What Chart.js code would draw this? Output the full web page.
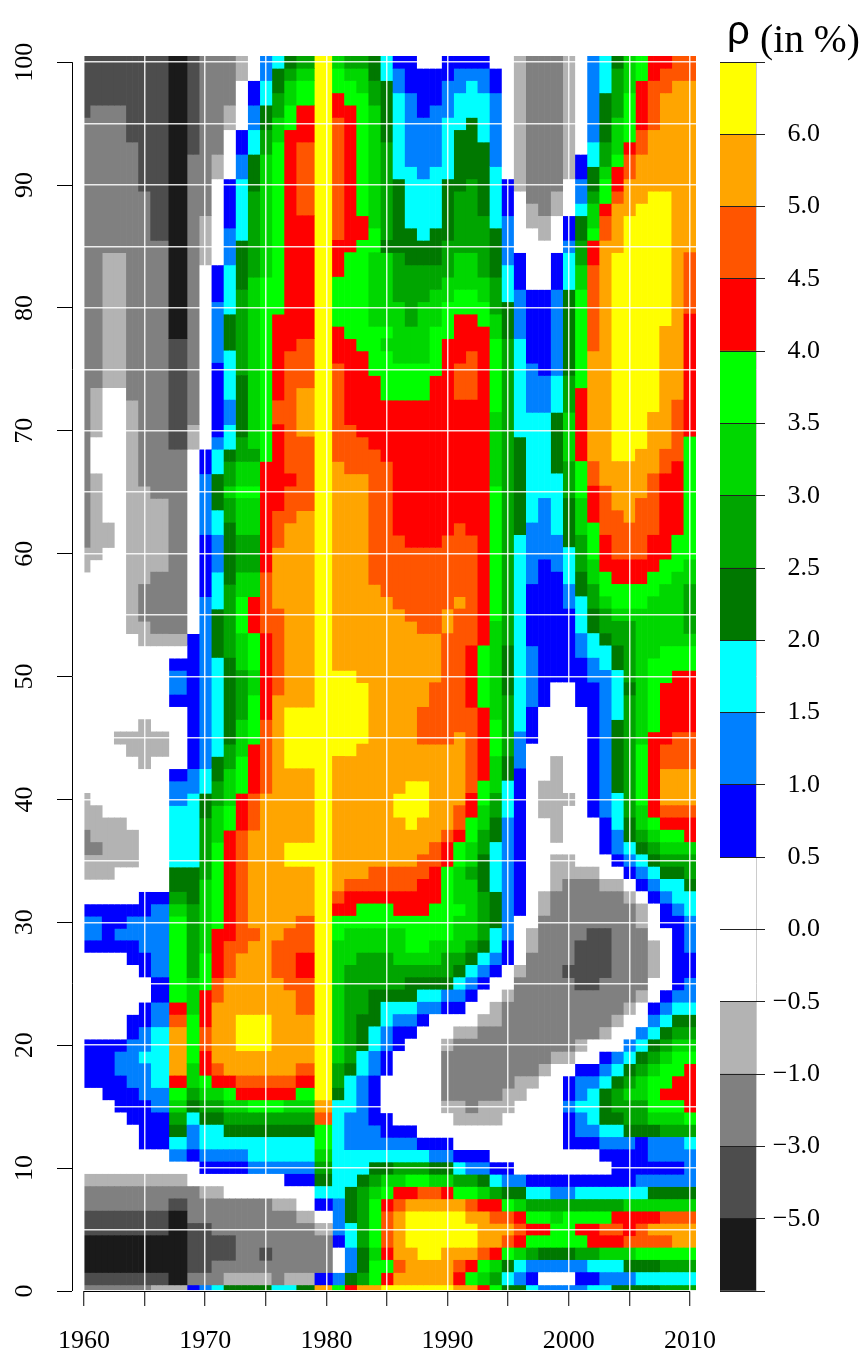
<!DOCTYPE html>
<html><head><meta charset="utf-8">
<style>
html,body{margin:0;padding:0;background:#fff;width:865px;height:1355px;overflow:hidden}
canvas{position:absolute;top:0}
#main{left:0}#bar{left:690px}
.t{position:absolute;color:#000;white-space:pre;line-height:1}
</style>
<script src="https://cdn.jsdelivr.net/npm/chart.js@4/dist/chart.umd.min.js"></script>
</head><body>
<canvas id="main" width="865" height="1355"></canvas>
<canvas id="bar" width="175" height="1355"></canvas>
<div class="t" style="left:727px;top:8px;font:40px 'Liberation Sans'">ρ</div>
<div class="t" style="left:760px;top:16px;font:39.5px 'Liberation Serif'">(in %)</div>
<script>
// Level codes, lowest to highest; e and f are the two white classes around zero
const levelCodes = ["a","b","c","d","e","f","g","h","i","j","k","l","m","n","o","p","q"];
const levelColors = ["#1a1a1a","#4d4d4d","#808080","#b3b3b3","#ffffff","#ffffff","#0000ff","#0080ff","#00ffff","#007800","#00a500","#00d700","#00ff00","#ff0000","#ff5500","#ffa500","#ffff00"];
const legendTicks = ["","\u22125.0","\u22123.0","\u22121.0","\u22120.5","0.0","0.5","1.0","1.5","2.0","2.5","3.0","3.5","4.0","4.5","5.0","6.0",""];
const xAxisYears = [1960,1970,1980,1990,2000,2010];
// Left edge (year) of each drawn column of the picture
const columnStarts = [1960,1960.5,1961.5,1962.5,1963.5,1964.5,1965.5,1967,1968.5,1969.5,1970.5,1971.5,1972.5,1973.5,1974.5,1975.5,1976.5,1977.5,1979,1980.5,1981.5,1982.5,1983.5,1984.5,1985.5,1986.5,1987.5,1988.5,1989.5,1990.5,1991.5,1992.5,1993.5,1994.5,1995.5,1996.5,1997.5,1998.5,1999.5,2000.5,2001.5,2002.5,2003.5,2004.5,2005.5,2006.5,2007.5,2008.5,2009.5,2010.5];
// Each column read from age 100 downward: level code + lowest age of that run
const columnLevels = [
"b96 c61 d59 e41 d38 c36 d34 e32 g31 h29 g28 e21 g17 e10 d9 c7 b5 a2 b1 c0",
"b97 c74 d70 e67 d60 e40 d37 c36 d34 e32 g31 h29 g28 e21 g17 e10 d9 c7 b5 a2 b1 c0",
"b97 c85 d74 e63 d61 e39 d34 e32 g28 e21 g16 e10 d9 c7 b5 a2 b1 c0",
"b97 c85 d74 e46 d45 e39 d35 e32 g30 h29 g28 e21 g20 h18 g15 e10 d9 c7 b5 a2 b1 c0",
"b94 c73 d54 e46 d44 e38 d35 e32 g31 h29 g27 e23 g21 h17 g14 e10 d9 c7 b5 a2 b1 c0",
"b90 c66 d58 c55 d53 e47 d43 e33 g31 h28 g26 e24 g22 h20 i19 h16 g12 e10 d9 c7 b5 a2 b1 c0",
"b86 c65 d59 c54 d53 e46 d44 e33 g32 h26 g24 h22 i17 h15 g12 e10 d9 c7 b5 a2 b1 d0",
"a78 b69 c54 d53 e52 g51 h49 g48 e43 g42 h40 i35 j33 k32 l31 m24 n23 o22 p18 n17 m16 l15 k14 j13 i12 h11 e10 d9 c8 b7 a1 d0",
"b93 c71 d69 e54 g43 h41 i35 j32 k26 l23 m19 l17 k16 j15 i14 h12 g11 e9 c6 b2 c1 g0",
"c88 d84 e69 g67 h62 g57 h43 i41 j39 k34 l28 m25 n22 o20 n18 m17 l16 k15 j14 i12 h11 g10 e9 d8 c6 b2 c1 h0",
"c93 d91 e84 g81 h76 g70 h69 i67 j64 i62 h59 i56 j52 i44 j42 k40 l37 m30 n26 o24 p19 o18 n17 l16 k15 j14 i12 h11 g10 e9 d8 c5 b3 c1 i0",
"c97 d95 e91 g87 h84 i80 j77 i73 h71 i69 j68 k66 l65 k63 j58 k52 j45 k43 l40 m38 n29 o26 p18 n17 m16 l15 k14 j13 i12 h11 g10 e8 c5 b3 c2 d1 j0",
"d99 e95 g93 h91 i86 j82 k75 j70 k68 l66 m65 l62 k59 l57 m54 l51 k47 l44 m41 n38 o28 p23 q20 p18 o17 n16 l15 k14 j13 i12 h11 g10 e8 c2 d1 j0",
"e99 g97 h95 i93 j90 k83 l69 k68 l66 m65 l62 k59 l57 n54 m51 l49 m45 n41 o38 p30 o29 p23 q20 p18 o17 n16 m15 k14 j13 i11 h10 e8 c2 d1 j0",
"h99 i97 j95 k93 l83 m68 n59 o54 n47 o41 p23 q20 p18 o17 n16 m15 k14 j13 i11 h10 e8 c4 b3 c2 d1 j0",
"i100 j98 k96 l94 m80 n73 o71 n64 o61 p56 o49 p29 o26 p18 o17 n16 m15 k14 j13 i11 h10 e8 d7 c1 i0",
"j100 k99 l97 m95 n77 o67 n66 o63 p48 q43 p37 q35 p30 o25 p18 o17 n16 l15 k14 j13 i11 h10 g9 e8 d7 c2 d1 i0",
"k100 l99 m97 n94 o88 n78 o74 p70 o64 p48 q43 p37 q35 p31 o28 n26 o23 p19 o18 n17 m16 l15 k14 j13 i11 h10 g9 e7 d6 c2 d1 j0",
"q16 p15 o14 m12 l11 k10 j9 i8 g7 e6 d5 c2 g1 p0",
"l100 m98 n96 o86 n83 m79 n76 o68 p51 q44 p33 o32 n31 m29 l19 k17 j16 i8 h5 g4 e2 h1 m0",
"k100 l99 m97 n85 m78 n71 o67 p51 q44 p34 o33 n31 m30 l27 k19 j18 i15 h12 i9 j6 i4 h2 j1 n0",
"k100 l98 m88 n86 m77 n70 o67 p50 q45 p34 o33 n32 m30 l28 k23 j20 i18 h12 i10 j9 k4 j2 k1 p0",
"j99 k97 l87 m85 l79 m75 n69 o58 p35 o33 n32 m30 l28 k25 j22 i20 h18 g14 h12 i11 j10 k9 l8 m4 l3 m1 p0",
"i99 j94 k86 j85 l79 m78 l77 m73 n68 o57 p35 o33 n32 m30 l28 k25 j24 i22 h20 g18 e15 g13 h12 i11 j10 l9 m8 n7 o4 n3 m2 n1 q0",
"g100 h98 i91 j85 k81 l76 m73 n62 o56 p41 q39 p35 o33 n31 m30 l27 k25 j24 i23 h22 g20 e14 g13 h12 i11 k10 l9 n8 o7 p3 o2 p1 q0",
"g98 h92 i87 j84 k79 l76 m73 n61 o55 p42 q38 p35 o33 n31 m28 l27 k26 j24 i23 h22 g21 e14 g13 h12 i11 k10 m9 n8 p7 q4 p1 q0",
"e100 g96 h91 i86 j84 k81 l76 m73 n61 o54 p48 o45 p42 q39 p36 o34 n31 m28 l27 k26 j25 i24 h23 g22 e13 g12 i11 k10 m9 o8 p7 q3 p1 q0",
"e100 g97 h92 i87 j84 k82 l79 m75 n61 o54 p50 o45 p37 o35 n32 m29 l27 k26 j25 i24 h23 e13 g12 h11 j10 l9 o8 p7 q3 p1 q0",
"g99 h96 i91 j86 k83 l81 m78 n62 o56 p54 o45 p38 o37 n35 m29 l28 k26 j25 h24 g23 e21 d20 c16 d15 e13 g12 h11 j10 l9 n8 p7 q4 p1 q0",
"g100 h98 i95 j90 k85 l82 m80 n76 o73 n63 o57 p56 o46 p40 o38 n37 m35 l32 m31 l28 k27 j26 i25 h24 g23 e22 d21 c16 d14 e12 g11 i10 k9 m8 p7 q4 p3 o2 n1 p0",
"g100 h99 i96 j91 k85 l82 m80 n77 o73 n62 o53 n48 o41 n39 m37 l35 k34 l29 k28 j27 i26 h25 g24 e22 d21 c15 d14 e12 g11 h10 k9 m8 o7 p6 q4 p3 n2 m1 p0",
"g100 h98 i94 j88 k83 l81 m79 n53 m48 n42 m40 l38 k36 j33 k29 j28 i27 h26 g25 e23 d22 c16 d14 e12 g11 h10 j9 l8 n7 p4 o3 m2 l1 n0",
"e100 g98 h92 i87 j83 k80 l78 m72 l66 m55 l47 m44 l41 k39 j37 i33 j30 i28 h27 g26 e24 d22 c16 d14 e11 g10 i9 k8 n7 o6 p4 n3 l2 k1 m0",
"e91 g88 h84 i81 j78 k53 j49 k44 j42 i39 h29 g27 e25 d24 c17 d15 e11 g10 h9 j8 m7 o6 p5 o4 m3 j2 i1 j0",
"d90 e85 g82 h78 i70 j62 i46 h43 g31 e27 d26 c18 d16 e10 h9 j8 l7 n6 o5 n4 l3 i2 h1 j0",
"c89 d87 e82 g76 h72 i63 h58 g53 h48 g45 e30 d28 c18 d17 e10 g9 i8 k7 m6 n5 m4 k3 h2 g1 i0",
"c88 d86 e82 g75 h72 i65 h60 g48 e42 d39 e33 d31 c19 d18 e10 g9 i8 k7 m6 n5 m4 j3 h2 e1 h0",
"c90 d88 e85 g82 h75 i72 j67 i62 h59 g50 e44 d37 e36 d33 c20 d19 e10 g9 h8 k7 l6 m4 j3 h2 e1 h0",
"d91 e88 g86 h85 i82 j75 k72 l68 k65 j61 i58 h56 g50 e41 d40 e36 d34 c27 b26 c20 d19 e18 g16 h15 g12 e10 g9 h8 k7 m4 j3 h2 e1 h0",
"e93 g91 h89 i88 j86 k84 l82 m74 n68 m65 l62 k59 j57 i54 h52 g48 e35 d34 c29 b25 c21 d20 e19 g18 h16 i15 h13 g12 e10 g9 i8 k7 m6 n5 m4 k3 h2 g1 h0",
"h94 i92 j90 k89 l87 m86 n84 o77 p68 o66 n63 m60 l58 k56 j54 i52 h50 g39 e35 d34 c30 b25 c21 e19 g18 h17 i14 h13 g12 e10 g9 i8 k7 m6 n4 k3 i2 g1 i0",
"i98 j94 k92 l91 m89 n88 o86 p66 o62 n59 m57 l56 k54 j53 i51 h39 g36 e34 d33 c30 b26 c22 d21 e20 g19 h18 i17 j14 i13 h12 g11 e10 g9 i8 k7 m6 o5 n4 l3 i2 h1 i0",
"j100 k96 l93 m92 n90 o89 p85 q68 p64 o60 n58 m56 l55 k53 j51 i47 j41 i38 h36 g35 e34 d33 c23 d22 e20 h19 i18 j17 k15 j14 i13 h12 g9 i8 k7 n6 o5 n4 l3 i2 h1 j0",
"l98 m94 n93 o91 p88 q68 p63 o60 n58 m56 l55 k50 j49 k39 j37 i36 h35 g34 e33 d32 c24 d23 e21 h20 i19 j18 k17 l16 k14 j13 h12 g9 i8 l7 n5 o4 l3 j2 h1 j0",
"m99 n95 o93 p89 q69 p65 o60 n58 m56 l45 m40 l38 k37 j36 i35 h34 g33 e32 d30 c25 d24 e22 h21 i20 j19 k18 l16 k14 j13 g10 h9 i8 l7 n6 o4 m3 j2 i1 j0",
"n99 o95 p90 q72 p67 o62 n59 m57 l52 m46 n39 m38 l37 k36 j35 i34 h33 g32 e29 d26 e24 g23 h22 i21 j20 k19 l18 m15 l14 j13 h11 g10 h9 j8 l7 n6 p5 o4 m3 j2 i1 j0",
"n100 o98 p90 q79 p69 o67 n60 m58 l53 m50 n45 o43 p40 o39 n38 m37 l36 k35 j34 i33 h32 g30 e25 g24 h23 i22 j21 k20 l19 m17 n16 m15 l14 k13 h11 g10 h9 j8 l7 o6 p5 o4 m3 k2 i1 k0",
"o99 p73 o68 n62 m59 l53 m51 n46 o43 p40 o39 n38 m37 l36 k35 j34 i32 h31 g25 h24 i23 j22 k21 l20 m18 n16 m15 l14 k13 h11 g10 h9 j8 l7 o6 p4 m3 k2 i1 k0",
"o99 p85 o80 n70 m60 l58 k54 l53 m51 n46 o43 p40 o39 n37 l36 k34 j33 i31 h28 g26 h24 i23 j22 k21 l20 m19 n15 m14 k13 i12 h9 j8 l7 o6 p4 m3 k2 i1 k0"
];

// Half-year categories carry the cells; the linear x2 axis carries ticks and grid.
const halfYears = [];
for (let k = 0; k < 101; k++) halfYears.push(String(1960 + k / 2));

const cellsByLevel = levelCodes.map(() => []);
columnLevels.forEach((col, c) => {
  let top = 100;
  col.split(" ").forEach(run => {
    const level = levelCodes.indexOf(run[0]);
    const low = parseInt(run.slice(1), 10);
    for (let yr = columnStarts[c]; yr < columnStarts[c + 1]; yr += 0.5) {
      cellsByLevel[level].push({ x: String(yr), y: [Math.max(low - 0.5, 0), top + 0.5] });
    }
    top = low - 1;
  });
});

const serif = "'Liberation Serif'";
const axisLines = {
  id: "axisLines",
  afterDraw(chart) {
    const c = chart.ctx, sx = chart.scales.x2, sy = chart.scales.yOuter;
    c.save();
    c.strokeStyle = "#000"; c.lineWidth = 1;
    c.beginPath();
    c.moveTo(sx.getPixelForValue(1960), chart.chartArea.bottom + 0.5);
    c.lineTo(sx.getPixelForValue(2010), chart.chartArea.bottom + 0.5);
    c.moveTo(sy.right + 0.5, sy.getPixelForValue(0));
    c.lineTo(sy.right + 0.5, sy.getPixelForValue(100));
    c.stroke();
    c.restore();
  }
};

new Chart(document.getElementById("main"), {
  type: "bar",
  data: {
    labels: halfYears,
    datasets: cellsByLevel.map((cells, i) => ({
      label: levelCodes[i],
      data: cells,
      backgroundColor: levelColors[i],
      borderWidth: 0,
      grouped: false,
      barPercentage: 1,
      categoryPercentage: 1,
      xAxisID: "x",
      yAxisID: "y"
    }))
  },
  options: {
    responsive: false,
    animation: false,
    devicePixelRatio: 1,
    layout: { padding: { top: 56, right: 169, left: 0, bottom: 0 } },
    plugins: { legend: { display: false }, title: { display: false }, tooltip: { enabled: false } },
    scales: {
      x: { type: "category", display: false, offset: true },
      x2: {
        type: "linear", axis: "x", position: "bottom", min: 1960, max: 2010.5, offset: false,
        afterFit(s) { s.height = 64; },
        border: { display: false },
        grid: { offset: false, z: 1, color: "rgba(255,255,255,0.85)", lineWidth: 1.5, tickColor: "#000", tickWidth: 1, tickLength: 15 },
        ticks: {
          stepSize: 5, includeBounds: false, autoSkip: false, maxRotation: 0, padding: 20, color: "#000",
          font: { family: serif, size: 26 },
          callback: v => xAxisYears.includes(v) ? String(v) : ""
        }
      },
      y: {
        type: "linear", position: "left", min: 0, max: 100.5, weight: 1,
        afterFit(s) { s.width = 12; },
        border: { display: false },
        grid: { z: 1, color: "rgba(255,255,255,0.85)", lineWidth: 1.5, drawTicks: false },
        ticks: { stepSize: 5, includeBounds: false, display: false }
      },
      yOuter: {
        type: "linear", axis: "y", position: "left", min: 0, max: 100.5, weight: 10,
        afterFit(s) { s.width = 72; },
        border: { display: false },
        grid: { drawOnChartArea: false, tickColor: "#000", tickWidth: 1, tickLength: 15 },
        ticks: {
          stepSize: 10, includeBounds: false, minRotation: 90, maxRotation: 90, crossAlign: "center",
          padding: 12, color: "#000", font: { family: serif, size: 26 }
        }
      }
    }
  },
  plugins: [axisLines]
});

new Chart(document.getElementById("bar"), {
  type: "bar",
  data: {
    labels: ["rho"],
    datasets: levelColors.map((col, i) => ({
      label: levelCodes[i],
      data: [[i, i + 1]],
      backgroundColor: col,
      borderWidth: 0,
      grouped: false,
      barPercentage: 1,
      categoryPercentage: 1
    }))
  },
  options: {
    responsive: false,
    animation: false,
    devicePixelRatio: 1,
    layout: { padding: { top: 62, left: 30, bottom: 64, right: 45 } },
    plugins: { legend: { display: false }, title: { display: false }, tooltip: { enabled: false } },
    scales: {
      x: { display: true, offset: true, afterFit(s) { s.height = 0; },
           border: { display: false },
           grid: { offset: true, color: "#cccccc", drawTicks: false },
           ticks: { display: false } },
      y: {
        type: "linear", position: "right", min: 0, max: 17,
        afterFit(s) { s.width = 64; },
        border: { display: false },
        grid: { z: 1, color: "#222", lineWidth: 1, tickLength: 9 },
        ticks: {
          stepSize: 1, autoSkip: false, padding: 8, crossAlign: "far", color: "#000",
          font: { family: serif, size: 26 },
          callback: v => legendTicks[v]
        }
      }
    }
  }
});
</script>
</body></html>
